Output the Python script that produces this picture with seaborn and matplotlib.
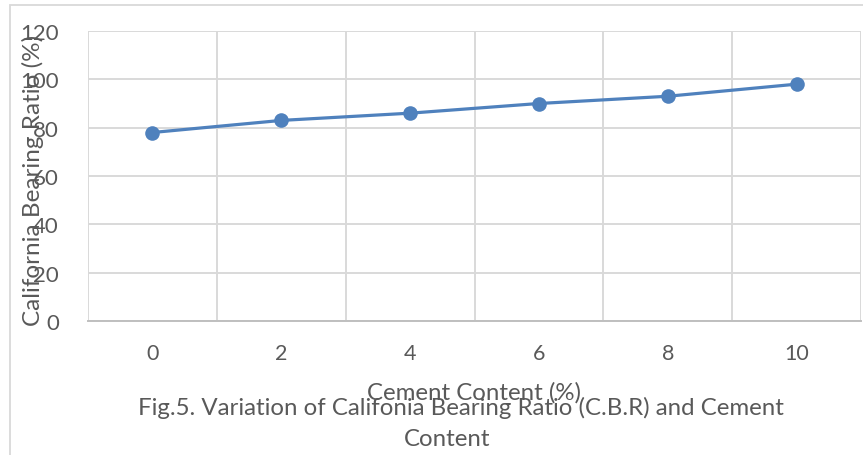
import matplotlib
matplotlib.use("Agg")
import matplotlib.pyplot as plt
import seaborn as sns
import pandas as pd
from matplotlib.patches import Rectangle
from matplotlib.ticker import FixedLocator

cement = ["0", "2", "4", "6", "8", "10"]
cbr = [78, 83, 86, 90, 93, 98]
y_ticks = [0, 20, 40, 60, 80, 100, 120]

sns.set_theme(style="white")
plt.rcParams['font.family'] = ['Lato', 'DejaVu Sans']

W, H = 863, 456
fig = plt.figure(figsize=(W / 100, H / 100), dpi=100)
ax = fig.add_axes([88 / W, 1 - 322 / H, (861 - 88) / W, (322 - 32) / H])

df = pd.DataFrame({"pos": range(len(cement)), "cbr": cbr})
sns.lineplot(data=df, x="pos", y="cbr", ax=ax, color="#4f81bd", linewidth=2.3,
             marker="o", markersize=10.5, markeredgewidth=0, markeredgecolor="#4f81bd")

gray = "#595959"
gridc = "#d9d9d9"
ax.set_xlim(-0.5, len(cement) - 0.5)
ax.set_ylim(0, 120)
ax.set_yticks(y_ticks)
ax.set_yticklabels([str(v) for v in y_ticks], fontsize=16, color=gray)
ax.set_xticks(range(len(cement)))
ax.set_xticklabels(cement, fontsize=15.5, color=gray)
ax.xaxis.set_minor_locator(FixedLocator([i - 0.5 for i in range(len(cement) + 1)]))
ax.tick_params(axis="both", which="both", length=0)
ax.tick_params(axis="x", pad=16)
ax.tick_params(axis="y", pad=21)
ax.grid(True, axis="y", which="major", color=gridc, linewidth=1.4)
ax.grid(True, axis="x", which="minor", color=gridc, linewidth=1.4)
ax.grid(False, axis="x", which="major")
for s in ["top", "left", "right"]:
    ax.spines[s].set_visible(False)
ax.spines["bottom"].set_color("#bfbfbf")
ax.spines["bottom"].set_linewidth(1.4)
ax.set_axisbelow(True)

ax.set_xlabel("")
ax.set_ylabel("")
fig.text(33 / W, 1 - 180 / H, "California Bearing Ratio (%)", rotation=90,
         ha="center", va="center", fontsize=17.5, color=gray)
fig.text(474 / W, 1 - 393 / H, "Cement Content (%)", ha="center", va="center",
         fontsize=17.3, color=gray)
fig.text(461 / W, 1 - 408 / H, "Fig.5. Variation of Califonia Bearing Ratio (C.B.R) and Cement",
         ha="center", va="center", fontsize=17.3, color=gray)
fig.text(447 / W, 1 - 440 / H, "Content", ha="center", va="center",
         fontsize=17.3, color=gray)

fig.patches.append(Rectangle((10 / W, -0.1), 1.0, 1.1 - 6 / H, transform=fig.transFigure,
                             fill=False, edgecolor=gridc, linewidth=1.3))

fig.savefig("out.png", dpi=100)
